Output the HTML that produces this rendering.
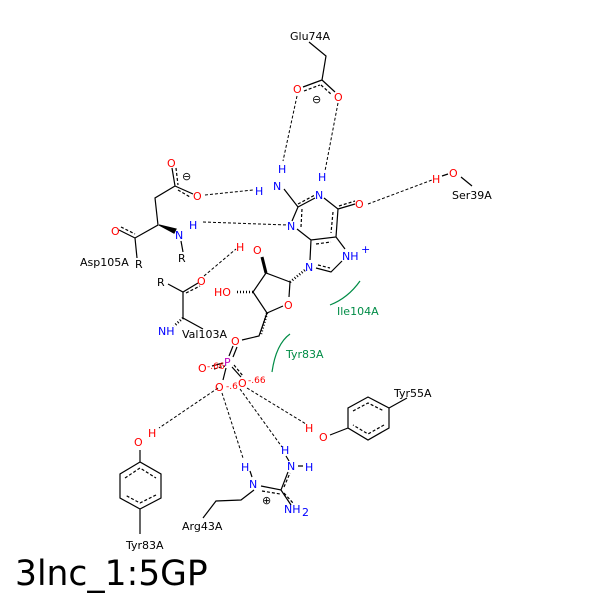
<!DOCTYPE html>
<html><head><meta charset="utf-8"><style>
html,body{margin:0;padding:0;background:#fff}
svg{display:block}
text{font-family:"DejaVu Sans","Liberation Sans",sans-serif;font-size:11px}
.b{fill:#0000ff}.r{fill:#ff0000}.k{fill:#000}.g{fill:#008c46}.m{fill:#c000c0}
</style></head><body>
<svg width="600" height="600" viewBox="0 0 600 600" xmlns="http://www.w3.org/2000/svg">
<rect width="600" height="600" fill="#fff"/>
<g stroke="#000" stroke-width="1.2" fill="none">
<!-- Glu74 -->
<path d="M309 42 L326 56 L322 80 L303 87 M322 80 L335 92"/>
<path d="M304 91 L320 85 M321 85 L332 95" stroke-dasharray="3,2"/>
<!-- guanine -->
<path d="M284 189 L298 207 L315 198 M324 198 L338 209 L336 237 L311 240 L297 229 M292 221 L298 207 M338 209 L355 204 M311 240 L310 260 M316 268 L331 272 L342 261 M345 249 L336 237"/>
<path d="M302 209 L301 227 M333 212 L331 233 M316 244 L331 242 M318 265 L330 268 M339 206 L355 201 M298 204 L315 195" stroke-dasharray="3,2"/>
<!-- ribose -->
<path d="M290 282 L289 297 M283 306 L267 313 L253 292 L266 273 L290 282 M267 313 L259 336 L242 340"/>
<path d="M266 273 L262 257" stroke-width="3"/>
<path d="M290 282 L305 270 M253 292 L237 292 M267 313 L261 334" stroke-dasharray="1,2" stroke-width="2.5"/>
<!-- phosphate -->
<path d="M233 346 L229 356 M237 347 L233 357"/>
<path d="M226 368 L223 380 M232 367 L241 377 M212 366 L223 363"/>
<path d="M214 369 L225 366 M234 365 L243 376" stroke-dasharray="3,2"/>
<!-- Asp105 -->
<path d="M172 168 L175 186 L193 194 M175 186 L155 198 L158 225 L135 238 L119 230 M135 238 L137 258 M181 241 L183 252"/>
<path d="M176 168 L178 185 M178 190 L190 197 M121 227 L135 234" stroke-dasharray="3,2"/>
<path d="M159 225 L174 233 L176 229 Z" fill="#000"/>
<!-- Val103 -->
<path d="M168 284 L183 292 L198 283 M183 292 L183 318 L203 329"/>
<path d="M186 293 L200 286" stroke-dasharray="3,2"/>
<path d="M183 318 L174 326" stroke-dasharray="1,2" stroke-width="2.5"/>
<!-- Ser39 -->
<path d="M461 177 L472 186 M442 176 L448 174"/>
<!-- Tyr55 -->
<path d="M330 435 L348 428 M348 428 L348 408 L368 397 L389 408 L389 428 L368 440 Z M389 408 L407 398"/>
<path d="M353 411 L368 403 L384 411 M384 425 L368 434 L353 425" stroke-dasharray="3,2"/>
<!-- Tyr83 bottom -->
<path d="M140 450 L140 462 M140 462 L120 474 L120 498 L140 509 L161 498 L161 474 Z M140 509 L140 534"/>
<path d="M125 478 L140 468 L156 478 M156 495 L140 503 L125 495" stroke-dasharray="3,2"/>
<!-- Arg43 -->
<path d="M261 486 L281 490 L288 472 M281 490 L291 505 M254 490 L241 500 L216 501 L203 518 M298 466 L303 466 M286 456 L289 461 M250 471 L252 477"/>
<path d="M262 491 L280 494 M284 493 L293 503 M284 487 L290 473" stroke-dasharray="3,2"/>
</g>
<!-- hbonds -->
<g stroke="#000" stroke-width="1" fill="none" stroke-dasharray="3,2">
<path d="M297 96 L283 161 M338 103 L325 171 M205 195 L253 190 M203 222 L288 225 M368 204 L432 180 M204 276 L236 249 M218 388 L159 428 M222 393 L243 458 M240 389 L282 447 M247 388 L306 424"/>
</g>
<!-- green arcs -->
<path d="M330 305 Q348 298 360 281" stroke="#008c46" stroke-width="1.2" fill="none"/>
<path d="M272 372 Q276 344 290 334" stroke="#008c46" stroke-width="1.2" fill="none"/>
<!-- labels -->
<text x="290" y="40" class="k" font-size="10">Glu74A</text>
<text x="293" y="93" class="r">O</text><text x="334" y="101" class="r">O</text>
<text x="312" y="103" class="k">⊖</text>
<text x="278" y="173" class="b">H</text><text x="273" y="190" class="b">N</text><text x="255" y="195" class="b">H</text>
<text x="318" y="181" class="b">H</text><text x="315" y="199" class="b">N</text>
<text x="355" y="208" class="r">O</text>
<text x="287" y="230" class="b">N</text>
<text x="342" y="260" class="b">NH</text><text x="361" y="253" class="b" font-size="8">+</text>
<text x="305" y="271" class="b">N</text>
<text x="284" y="309" class="r">O</text>
<text x="253" y="254" class="r">O</text><text x="236" y="251" class="r">H</text>
<text x="214" y="296" class="r">HO</text>
<text x="231" y="345" class="r">O</text>
<text x="224" y="366" class="m">P</text>
<text x="198" y="372" class="r">O</text><text x="207" y="369" class="r" style="font-size:9px">-.66</text>
<text x="215" y="391" class="r">O</text><text x="226" y="389" class="r" style="font-size:9px">-.6</text>
<text x="238" y="387" class="r">O</text><text x="248" y="383" class="r" style="font-size:9px">-.66</text>
<text x="167" y="167" class="r">O</text><text x="182" y="180" class="k">⊖</text>
<text x="193" y="200" class="r">O</text>
<text x="111" y="235" class="r">O</text>
<text x="175" y="239" class="b">N</text><text x="189" y="229" class="b">H</text>
<text x="178" y="262" class="k">R</text>
<text x="80" y="266" class="k" font-size="10">Asp105A</text><text x="135" y="268" class="k">R</text>
<text x="157" y="286" class="k">R</text><text x="197" y="285" class="r">O</text>
<text x="158" y="335" class="b">NH</text>
<text x="182" y="338" class="k" font-size="10">Val103A</text>
<text x="432" y="183" class="r">H</text><text x="449" y="177" class="r">O</text>
<text x="452" y="199" class="k" font-size="10">Ser39A</text>
<text x="337" y="315" class="g" font-size="10">Ile104A</text>
<text x="286" y="358" class="g" font-size="10">Tyr83A</text>
<text x="394" y="397" class="k" font-size="10">Tyr55A</text>
<text x="305" y="432" class="r">H</text><text x="319" y="441" class="r">O</text>
<text x="134" y="446" class="r">O</text><text x="148" y="437" class="r">H</text>
<text x="126" y="549" class="k" font-size="10">Tyr83A</text>
<text x="241" y="471" class="b">H</text><text x="249" y="488" class="b">N</text>
<text x="281" y="454" class="b">H</text><text x="287" y="470" class="b">N</text><text x="305" y="471" class="b">H</text>
<text x="262" y="504" class="k">⊕</text>
<text x="284" y="513" class="b">NH</text><text x="302" y="516" class="b" font-size="8">2</text>
<text x="182" y="530" class="k" font-size="10">Arg43A</text>
<text x="15" y="585" class="k" style="font-size:34.5px">3lnc_1:5GP</text>
</svg>
</body></html>
